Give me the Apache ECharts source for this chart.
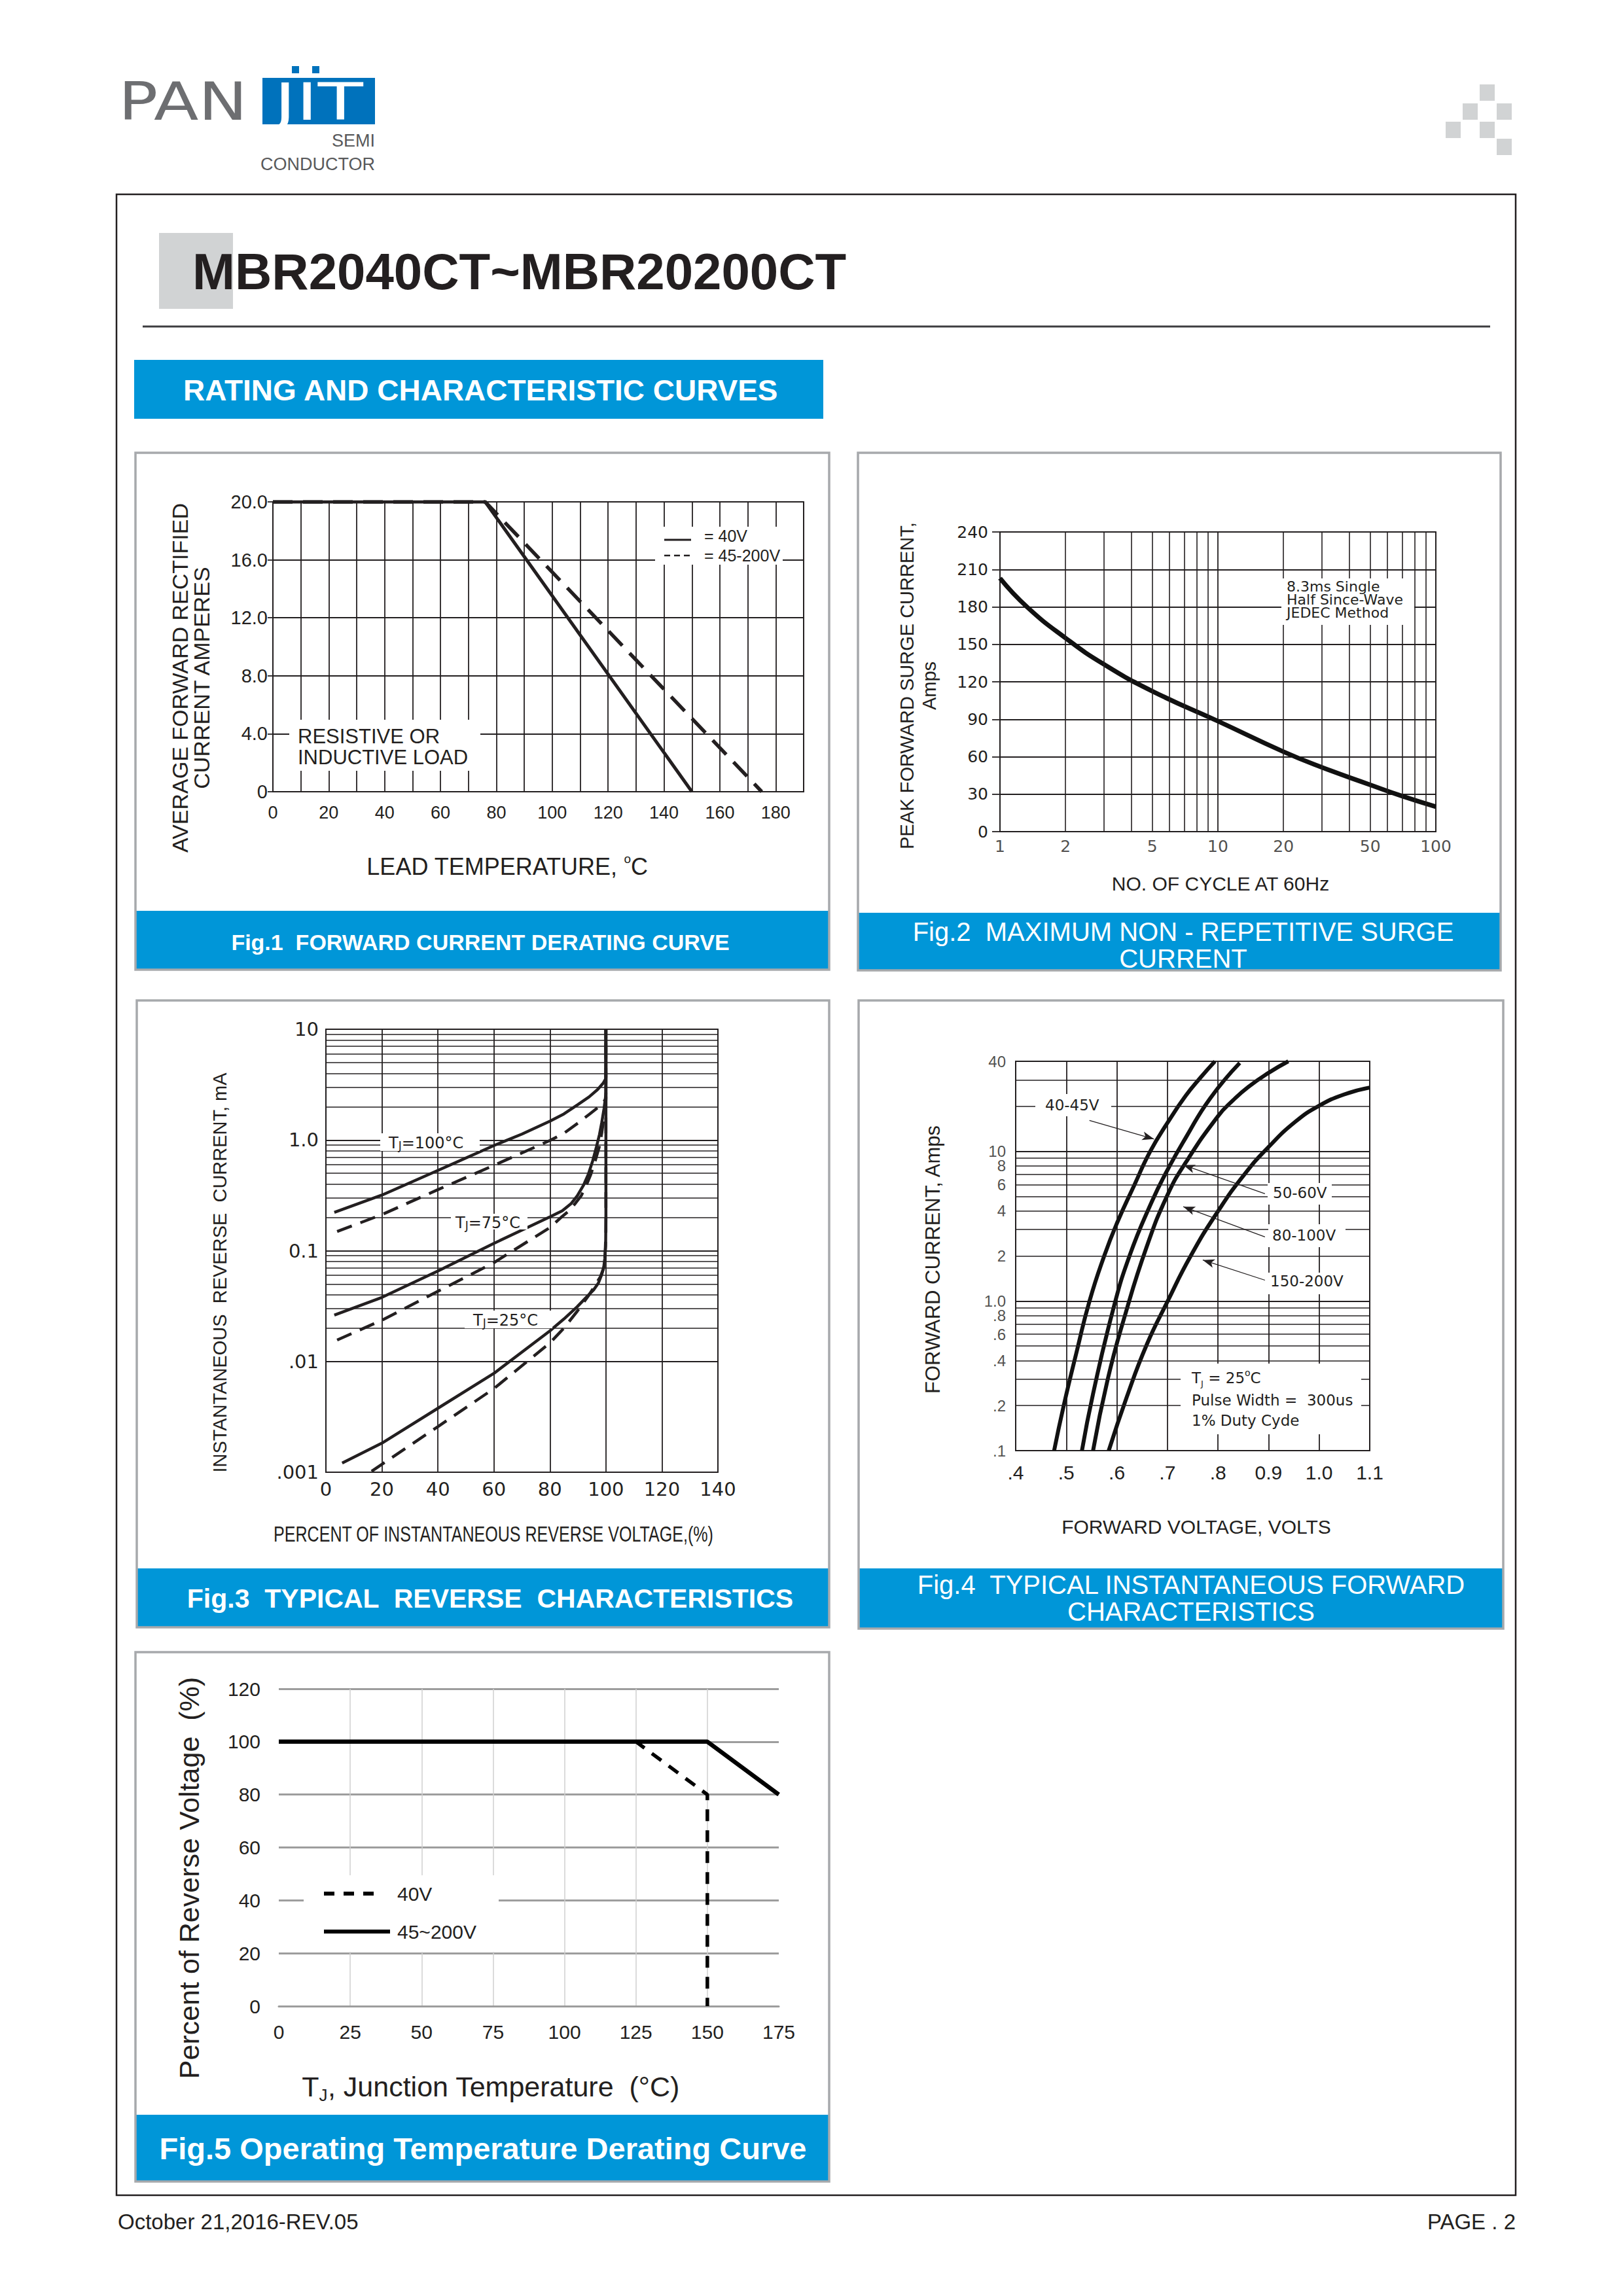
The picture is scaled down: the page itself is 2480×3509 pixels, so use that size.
<!DOCTYPE html>
<html><head><meta charset="utf-8">
<style>html,body{margin:0;padding:0;background:#fff;}#c{width:2480px;height:3509px;}</style>
<script src="https://cdn.jsdelivr.net/npm/echarts@6/dist/echarts.min.js"></script>
</head><body><div id="c"></div>
<script>
// ================= DATA =================
// Fig.1 Forward current derating curve (lead temperature degC, amps)
const fig1Solid40V = [[0, 20], [76, 20], [150, 0]];
const fig1Dashed45to200V = [[0, 20], [76, 20], [175, 0]];
const fig1XTickLabels = ['0', '20', '40', '60', '80', '100', '120', '140', '160', '180'];
const fig1YTickLabels = ['0', '4.0', '8.0', '12.0', '16.0', '20.0'];

// Fig.2 Max non-repetitive surge current (cycles, amps)
const fig2Cycles = [1, 1.33, 2, 3, 5, 10, 20, 30, 50, 70, 100];
const fig2Surge = [203, 180, 155, 134, 112.5, 88.5, 64, 51.5, 37.5, 28.5, 20];
const fig2XTickVals = [1, 2, 5, 10, 20, 50, 100];
const fig2XTickLabels = ['1', '2', '5', '10', '20', '50', '100'];

// Fig.3 Typical reverse characteristics (% of VRRM, mA)
const fig3Solid100 = [[3, 0.222], [20, 0.318], [40, 0.531], [60, 0.891], [70, 1.13], [80, 1.48], [85, 1.72], [90, 2.09], [94, 2.45], [97, 2.85], [99, 3.25], [100, 3.6], [100, 10]];
const fig3Dashed100 = [[4, 0.149], [20, 0.212], [40, 0.356], [60, 0.59], [80, 0.99], [85, 1.15], [90, 1.42], [94, 1.7], [97, 1.95], [99, 2.18], [100, 2.35], [100, 10]];
const fig3Solid75 = [[3, 0.0262], [20, 0.0379], [40, 0.0656], [60, 0.1165], [80, 0.202], [84.4, 0.229], [87.5, 0.265], [89.8, 0.314], [92, 0.39], [93.7, 0.489], [95.3, 0.65], [96.6, 0.863], [97.7, 1.12], [98.5, 1.43], [99.3, 1.9], [100, 2.6], [100, 10]];
const fig3Dashed75 = [[4, 0.0156], [20, 0.0236], [40, 0.043], [60, 0.078], [80, 0.162], [84, 0.2], [86.8, 0.229], [89.2, 0.27], [91.2, 0.314], [93, 0.39], [94.6, 0.489], [96.2, 0.65], [97.6, 0.863], [98.5, 1.15], [99.3, 1.6], [100, 2.3], [100, 10]];
const fig3Solid25 = [[5.8, 0.00121], [20, 0.00183], [40, 0.00378], [60, 0.00781], [80, 0.0189], [85, 0.0242], [89.8, 0.0313], [93, 0.038], [95.6, 0.0443], [97.3, 0.051], [98.5, 0.0609], [99.2, 0.07], [99.6, 0.085], [99.9, 0.11], [100, 0.2], [100, 10]];
const fig3Dashed25 = [[16.3, 0.00102], [40, 0.00258], [60, 0.00569], [80, 0.0147], [85, 0.02], [89.8, 0.0285], [93.7, 0.039], [96, 0.048], [98, 0.058], [99.2, 0.07], [99.7, 0.09], [100, 0.15], [100, 10]];
const fig3YTickLabels = { '-3': '.001', '-2': '.01', '-1': '0.1', '0': '1.0', '1': '10' };

// Fig.4 Typical instantaneous forward characteristics (volts, amps)
const fig4V40to45 = [[0.476, 0.1], [0.495, 0.2], [0.52, 0.45], [0.546, 1.0], [0.575, 2.0], [0.6, 3.3], [0.635, 6.0], [0.666, 10], [0.7, 15.5], [0.736, 23.5], [0.765, 31], [0.794, 40]];
const fig4V50to60 = [[0.531, 0.1], [0.553, 0.24], [0.592, 0.86], [0.625, 2.0], [0.669, 4.6], [0.7, 7.5], [0.736, 12.3], [0.784, 22.5], [0.843, 39]];
const fig4V80to100 = [[0.553, 0.1], [0.582, 0.3], [0.616, 0.8], [0.659, 2.3], [0.7, 5.1], [0.736, 8.4], [0.8, 17.2], [0.83, 22], [0.86, 27], [0.9, 33.5], [0.939, 40]];
const fig4V150to200 = [[0.584, 0.1], [0.62, 0.23], [0.659, 0.51], [0.7, 0.99], [0.746, 2.0], [0.8, 3.98], [0.852, 7.0], [0.9, 10.7], [0.953, 15.8], [1.0, 20.2], [1.049, 24], [1.1, 26.7]];
const fig4XTickLabels = ['.4', '.5', '.6', '.7', '.8', '0.9', '1.0', '1.1'];
const fig4YTickVals = [40, 10, 8, 6, 4, 2, 1, 0.8, 0.6, 0.4, 0.2, 0.1];
const fig4YTickLabels = ['40', '10', '8', '6', '4', '2', '1.0', '.8', '.6', '.4', '.2', '.1'];
// annotation arrows: [from, to] in data coords (V, A)
const fig4Arrows = [
  [[0.5458, 16.1], [0.6735, 12.09]],
  [[0.8928, 5.21], [0.7313, 8.11]],
  [[0.8928, 2.68], [0.7313, 4.27]],
  [[0.8928, 1.378], [0.7699, 1.88]]
];

// Fig.5 Operating temperature derating curve (Tj degC, % of VR)
const fig5Solid45to200V = [[0, 100], [150, 100], [175, 80]];
const fig5Dashed40V = [[0, 100], [125, 100], [150, 80], [150, 0]];

// ================= STYLE =================
const FONT = '"Liberation Sans", Arial, Helvetica, sans-serif';
const DJ = '"DejaVu Sans", "Liberation Sans", sans-serif';
const INK = '#231f20';
const BLUE = '#0096d8';
const LOGO_BLUE = '#0072bc';
const BOX_GRAY = '#a7a9ac';
const gridLine = { color: INK, width: 1.8 };

function minorLogValues(decades) {
  const out = [];
  decades.forEach(d => { for (let k = 2; k <= 9; k++) out.push(+(k * d).toPrecision(3)); });
  return out;
}
const fig2MinorX = minorLogValues([1, 10]);
const fig3MinorY = minorLogValues([0.001, 0.01, 0.1, 1]);
const fig4MinorY = minorLogValues([0.1, 1]).concat([20, 30]);

const minorMark = (vals, dim) => ({
  silent: true, symbol: 'none', animation: false,
  label: { show: false }, emphasis: { disabled: true },
  lineStyle: { color: INK, width: 1.6, type: 'solid' },
  data: vals.map(v => (dim === 'x' ? { xAxis: v } : { yAxis: v }))
});

// ================= GRAPHIC HELPERS =================
const G = [];
function rect(x, y, w, h, fill, stroke, lw, z) {
  G.push({ type: 'rect', z: z == null ? 1 : z, silent: true, shape: { x, y, width: w, height: h },
    style: { fill: fill || 'none', stroke: stroke || 'none', lineWidth: lw || 0 } });
}
function line(x1, y1, x2, y2, color, lw, dash, z) {
  G.push({ type: 'line', z: z == null ? 60 : z, silent: true, shape: { x1, y1, x2, y2 },
    style: { stroke: color, lineWidth: lw, lineDash: dash || null } });
}
function text(x, y, str, font, opts) {
  opts = opts || {};
  const el = { type: 'text', z: opts.z == null ? 70 : opts.z, silent: true, x, y,
    rotation: opts.rotation || 0, scaleX: opts.scaleX || 1,
    style: { text: str, x: 0, y: 0, font, fill: opts.fill || INK,
      align: opts.align || 'left', textAlign: opts.align || 'left',
      verticalAlign: 'middle', textVerticalAlign: 'middle' } };
  if (opts.rich) el.style.rich = opts.rich;
  G.push(el);
}

// ---------- header ----------
text(181, 155, 'PAN', '80px ' + DJ, { fill: '#6d6e71', scaleX: 1.25 });
rect(401, 119, 172, 71, LOGO_BLUE, null, 0, 2);
text(487, 156, 'JIT', '78px ' + DJ, { fill: '#ffffff', align: 'center', scaleX: 1.45 });
rect(446, 101, 11, 11, LOGO_BLUE, null, 0, 2);
rect(477, 101, 11, 11, LOGO_BLUE, null, 0, 2);
text(573, 215, 'SEMI', '27px ' + FONT, { fill: '#58595b', align: 'right' });
text(573, 251, 'CONDUCTOR', '27px ' + FONT, { fill: '#58595b', align: 'right' });
[[2261, 129], [2235, 158], [2287, 158], [2209, 186], [2261, 186], [2287, 212]].forEach(p => rect(p[0], p[1], 23, 25, '#d1d3d4', null, 0, 2));

// page frame
rect(178, 297, 2138, 3058, 'none', INK, 2.5, 3);
rect(243, 356, 113, 116, '#d1d3d4', null, 0, 2);
text(294, 415, 'MBR2040CT~MBR20200CT', 'bold 78px ' + FONT, { z: 5 });
line(218, 499, 2277, 499, '#3d3d3f', 3, null, 3);

// section banner
rect(205, 550, 1053, 90, BLUE, null, 0, 2);
text(280, 597, 'RATING AND CHARACTERISTIC CURVES', 'bold 44px ' + FONT, { fill: '#ffffff', scaleX: 1.045 });

// ---------- figure frames ----------
function figFrame(x, y, w, h, bannerTop) {
  rect(x, bannerTop, w, y + h - bannerTop, BLUE, null, 0, 1);
  rect(x, y, w, h, 'none', BOX_GRAY, 3.5, 4);
}
figFrame(207, 692, 1060, 790, 1392);
figFrame(1311, 692, 982, 791, 1395);
figFrame(209, 1529, 1058, 958, 2397);
figFrame(1312, 1529, 985, 960, 2397);
figFrame(207, 2525, 1060, 809, 3232);

// banner captions
text(734, 1440, 'Fig.1  FORWARD CURRENT DERATING CURVE', 'bold 34px ' + FONT, { fill: '#fff', align: 'center' });
text(1808, 1424, 'Fig.2  MAXIMUM NON - REPETITIVE SURGE', '40px ' + FONT, { fill: '#fff', align: 'center' });
text(1808, 1465, 'CURRENT', '40px ' + FONT, { fill: '#fff', align: 'center' });
text(749, 2443, 'Fig.3  TYPICAL  REVERSE  CHARACTERISTICS', 'bold 41px ' + FONT, { fill: '#fff', align: 'center' });
text(1820, 2422, 'Fig.4  TYPICAL INSTANTANEOUS FORWARD', '40px ' + FONT, { fill: '#fff', align: 'center' });
text(1820, 2463, 'CHARACTERISTICS', '40px ' + FONT, { fill: '#fff', align: 'center' });
text(738, 3283, 'Fig.5 Operating Temperature Derating Curve', 'bold 47px ' + FONT, { fill: '#fff', align: 'center' });

// ---------- Fig.1 texts ----------
text(275, 1036, 'AVERAGE FORWARD RECTIFIED', '34px ' + FONT, { rotation: Math.PI / 2, align: 'center' });
text(308, 1036, 'CURRENT AMPERES', '34px ' + FONT, { rotation: Math.PI / 2, align: 'center' });
text(775, 1324, 'LEAD TEMPERATURE, {s|o}C', '36px ' + FONT, { align: 'center',
  rich: { s: { fontSize: 19, fontFamily: FONT, verticalAlign: 'top', lineHeight: 42, fill: INK } } });
rect(1001, 805, 195, 58, '#fff', null, 0, 55);
line(1015, 825, 1056, 825, INK, 3);
line(1015, 849, 1060, 849, INK, 2.5, [9, 6]);
text(1076, 819, '= 40V', '25px ' + FONT);
text(1076, 849, '= 45-200V', '25px ' + FONT);
rect(442, 1100, 292, 78, '#fff', null, 0, 55);
text(455, 1125, 'RESISTIVE OR', '31px ' + FONT);
text(455, 1157, 'INDUCTIVE LOAD', '31px ' + FONT);

// ---------- Fig.2 texts ----------
text(1386, 1048, 'PEAK FORWARD SURGE CURRENT,', '29px ' + FONT, { rotation: Math.PI / 2, align: 'center' });
text(1420, 1048, 'Amps', '29px ' + FONT, { rotation: Math.PI / 2, align: 'center' });
text(1865, 1350, 'NO. OF CYCLE AT 60Hz', '30px ' + FONT, { align: 'center' });
rect(1958, 884, 203, 71, '#fff', null, 0, 55);
text(1966, 896, '8.3ms Single', '22px ' + DJ);
text(1966, 916, 'Half Since-Wave', '22px ' + DJ);
text(1966, 936, 'JEDEC Method', '22px ' + DJ);

// ---------- Fig.3 texts ----------
text(336, 1945, 'INSTANTANEOUS  REVERSE  CURRENT, mA', '29px ' + FONT, { rotation: Math.PI / 2, align: 'center' });
text(754, 2344, 'PERCENT OF INSTANTANEOUS REVERSE VOLTAGE,(%)', '33px ' + FONT, { align: 'center', scaleX: 0.76 });
const tjRich = { t: { fontSize: 24, fontFamily: DJ, fill: INK, verticalAlign: 'bottom', lineHeight: 28 },
                 j: { fontSize: 17, fontFamily: DJ, fill: INK, verticalAlign: 'bottom', lineHeight: 24 } };
rect(581, 1732, 152, 27, '#fff', null, 0, 55);
text(594, 1745, '{t|T}{j|J}{t|=100°C}', '24px ' + DJ, { rich: tjRich });
rect(689, 1855, 117, 24, '#fff', null, 0, 55);
text(696, 1867, '{t|T}{j|J}{t|=75°C}', '24px ' + DJ, { rich: tjRich });
rect(710, 2003, 134, 27, '#fff', null, 0, 55);
text(723, 2016, '{t|T}{j|J}{t|=25°C}', '24px ' + DJ, { rich: tjRich });

// ---------- Fig.4 texts ----------
text(1425, 1925, 'FORWARD CURRENT, Amps', '31px ' + FONT, { rotation: Math.PI / 2, align: 'center' });
text(1828, 2333, 'FORWARD VOLTAGE, VOLTS', '30px ' + FONT, { align: 'center' });
rect(1582, 1672, 116, 34, '#fff', null, 0, 55);
text(1597, 1689, '40-45V', '23px ' + DJ);
rect(1937, 1808, 98, 33, '#fff', null, 0, 55);
text(1945, 1823, '50-60V', '23px ' + DJ);
rect(1938, 1871, 118, 35, '#fff', null, 0, 55);
text(1944, 1888, '80-100V', '23px ' + DJ);
rect(1938, 1945, 127, 33, '#fff', null, 0, 55);
text(1941, 1958, '150-200V', '23px ' + DJ);
rect(1804, 2084, 276, 108, '#fff', null, 0, 55);
text(1821, 2106, 'T{s|J} = 25{o|o}C', '23px ' + DJ, { rich: {
  s: { fontSize: 13, fontFamily: DJ, fill: INK, verticalAlign: 'bottom', lineHeight: 22 },
  o: { fontSize: 14, fontFamily: DJ, fill: INK, verticalAlign: 'top', lineHeight: 30 } } });
text(1821, 2140, 'Pulse Width =  300us', '23px ' + DJ);
text(1821, 2171, '1% Duty Cyde', '23px ' + DJ);

// ---------- Fig.5 texts ----------
text(289, 2870, 'Percent of Reverse Voltage  (%)', '43px ' + FONT, { rotation: Math.PI / 2, align: 'center' });
text(750, 3189, '{m|T}{s|J}{m|, Junction Temperature  (°C)}', '43px ' + FONT, { align: 'center', rich: {
  m: { fontSize: 43, fontFamily: FONT, fill: INK, verticalAlign: 'middle', lineHeight: 52 },
  s: { fontSize: 26, fontFamily: FONT, fill: INK, verticalAlign: 'bottom', lineHeight: 20 } } });
rect(464, 2866, 298, 117, '#fff', null, 0, 55);
line(495, 2894, 583, 2894, '#000', 6, [16, 14]);
line(495, 2952, 596, 2952, '#000', 6);
text(607, 2894, '40V', '30px ' + FONT);
text(607, 2952, '45~200V', '30px ' + FONT);

// ---------- footer ----------
text(180, 3395, 'October 21,2016-REV.05', '33px ' + FONT);
text(2316, 3395, 'PAGE . 2', '33px ' + FONT, { align: 'right' });

// ================= CHART =================
const chart = echarts.init(document.getElementById('c'), null, { renderer: 'svg', width: 2480, height: 3509 });

const inkAxis = (extra) => Object.assign({
  axisLine: { show: true, lineStyle: gridLine },
  axisTick: { show: false },
  splitLine: { show: true, lineStyle: gridLine }
}, extra);
const lbl = (extra) => Object.assign({ color: INK, fontFamily: FONT }, extra);
const gridBox = (left, top, width, height, show) => ({ left, top, width, height, show: !!show,
  borderColor: INK, borderWidth: 1.8, backgroundColor: 'transparent', containLabel: false, outerBoundsMode: 'none' });
const curve = (name, xi, data, width, dash, extra) => Object.assign({
  name, type: 'line', xAxisIndex: xi, yAxisIndex: xi, data, symbol: 'none',
  lineStyle: { color: INK, width, type: dash || 'solid' }
}, extra || {});

const option = {
  animation: false,
  backgroundColor: '#ffffff',
  textStyle: { fontFamily: FONT },
  graphic: { elements: G },
  grid: [
    gridBox(417, 767, 811, 443, true),
    gridBox(1528, 813, 666, 458, true),
    gridBox(498, 1573, 599, 677, true),
    gridBox(1552, 1622, 541, 595, true),
    gridBox(426, 2581, 764, 485, false)
  ],
  xAxis: [
    inkAxis({ gridIndex: 0, type: 'value', min: 0, max: 190, interval: 10,
      axisLabel: lbl({ fontSize: 27, margin: 18, formatter: v => (v % 20 === 0 ? (fig1XTickLabels[v / 20] || '') : '') }) }),
    inkAxis({ gridIndex: 1, type: 'log', logBase: 10, min: 1, max: 100, axisLabel: { show: false } }),
    inkAxis({ gridIndex: 2, type: 'value', min: 0, max: 140, interval: 20,
      axisLabel: lbl({ fontSize: 29, fontFamily: DJ, margin: 11 }) }),
    inkAxis({ gridIndex: 3, type: 'value', min: 0.4, max: 1.1, interval: 0.1,
      axisLabel: lbl({ fontSize: 30, margin: 18, formatter: v => fig4XTickLabels[Math.round((v - 0.4) / 0.1)] || '' }) }),
    { gridIndex: 4, type: 'value', min: 0, max: 175, interval: 25,
      axisLine: { show: true, lineStyle: { color: '#9d9d9d', width: 3 } }, axisTick: { show: false },
      splitLine: { show: true, showMinLine: false, showMaxLine: false, lineStyle: { color: '#cfcfcf', width: 1.5 } },
      axisLabel: lbl({ fontSize: 30, margin: 24 }) }
  ],
  yAxis: [
    inkAxis({ gridIndex: 0, type: 'value', min: 0, max: 20, interval: 4,
      axisTick: { show: true, length: 8, lineStyle: gridLine },
      axisLabel: lbl({ fontSize: 29, margin: 8, formatter: v => fig1YTickLabels[Math.round(v / 4)] }) }),
    inkAxis({ gridIndex: 1, type: 'value', min: 0, max: 240, interval: 30,
      axisTick: { show: true, length: 12, lineStyle: gridLine },
      axisLabel: lbl({ fontSize: 25, fontFamily: DJ, margin: 18 }) }),
    inkAxis({ gridIndex: 2, type: 'log', logBase: 10, min: 0.001, max: 10,
      axisLabel: lbl({ fontSize: 29, fontFamily: DJ, margin: 11, formatter: v => fig3YTickLabels[String(Math.round(Math.log10(v)))] || '' }) }),
    inkAxis({ gridIndex: 3, type: 'log', logBase: 10, min: 0.1, max: 40, axisLabel: { show: false } }),
    { gridIndex: 4, type: 'value', min: 0, max: 120, interval: 20,
      axisLine: { show: false }, axisTick: { show: false },
      splitLine: { show: true, lineStyle: { color: '#9d9d9d', width: 3 } },
      axisLabel: lbl({ fontSize: 30, margin: 28 }) }
  ],
  series: [
    // Fig.1
    curve('45-200V', 0, fig1Dashed45to200V, 5.5, [30, 16]),
    curve('40V', 0, fig1Solid40V, 5),
    // Fig.2
    curve('surge', 1, fig2Cycles.map((c, i) => [c, fig2Surge[i]]), 7, null,
      { smooth: 0.5, lineStyle: { color: '#111', width: 7 }, markLine: minorMark(fig2MinorX, 'x') }),
    { name: 'fig2XLabels', type: 'scatter', xAxisIndex: 1, yAxisIndex: 1, symbolSize: 0, silent: true, clip: false,
      data: fig2XTickVals.map(v => [v, 0]),
      label: { show: true, position: 'bottom', distance: 10, color: INK, fontFamily: DJ, fontSize: 25,
        formatter: p => fig2XTickLabels[p.dataIndex] } },
    // Fig.3
    curve('Tj=100C (solid)', 2, fig3Solid100, 4.5, null, { markLine: minorMark(fig3MinorY, 'y') }),
    curve('Tj=100C (dashed)', 2, fig3Dashed100, 4.5, [24, 14]),
    curve('Tj=75C (solid)', 2, fig3Solid75, 4.5),
    curve('Tj=75C (dashed)', 2, fig3Dashed75, 4.5, [24, 14]),
    curve('Tj=25C (solid)', 2, fig3Solid25, 4.5),
    curve('Tj=25C (dashed)', 2, fig3Dashed25, 4.5, [24, 14]),
    // Fig.4
    curve('40-45V', 3, fig4V40to45, 6, null, { smooth: 0.5, lineStyle: { color: '#111', width: 6 }, markLine: minorMark(fig4MinorY, 'y') }),
    curve('50-60V', 3, fig4V50to60, 6, null, { smooth: 0.5, lineStyle: { color: '#111', width: 6 },
      markLine: { silent: true, animation: false, symbol: ['none', 'arrow'], symbolSize: [10, 18],
        label: { show: false }, lineStyle: { color: INK, width: 1.3, type: 'solid' },
        data: fig4Arrows.map(a => [{ coord: a[0] }, { coord: a[1] }]) } }),
    curve('80-100V', 3, fig4V80to100, 6, null, { smooth: 0.5, lineStyle: { color: '#111', width: 6 } }),
    curve('150-200V', 3, fig4V150to200, 6, null, { smooth: 0.5, lineStyle: { color: '#111', width: 6 } }),
    { name: 'fig4YLabels', type: 'scatter', xAxisIndex: 3, yAxisIndex: 3, symbolSize: 0, silent: true, clip: false,
      data: fig4YTickVals.map(v => [0.4, v]),
      label: { show: true, position: 'left', distance: 15, color: INK, fontFamily: FONT, fontSize: 24, lineHeight: 19,
        formatter: p => fig4YTickLabels[p.dataIndex] } },
    // Fig.5
    curve('40V', 4, fig5Dashed40V, 5.5, [18, 14], { lineStyle: { color: '#000', width: 5.5, type: [18, 14] } }),
    curve('45~200V', 4, fig5Solid45to200V, 6.5, null, { lineStyle: { color: '#000', width: 6.5 } })
  ]
};
chart.setOption(option);
</script>
</body></html>
